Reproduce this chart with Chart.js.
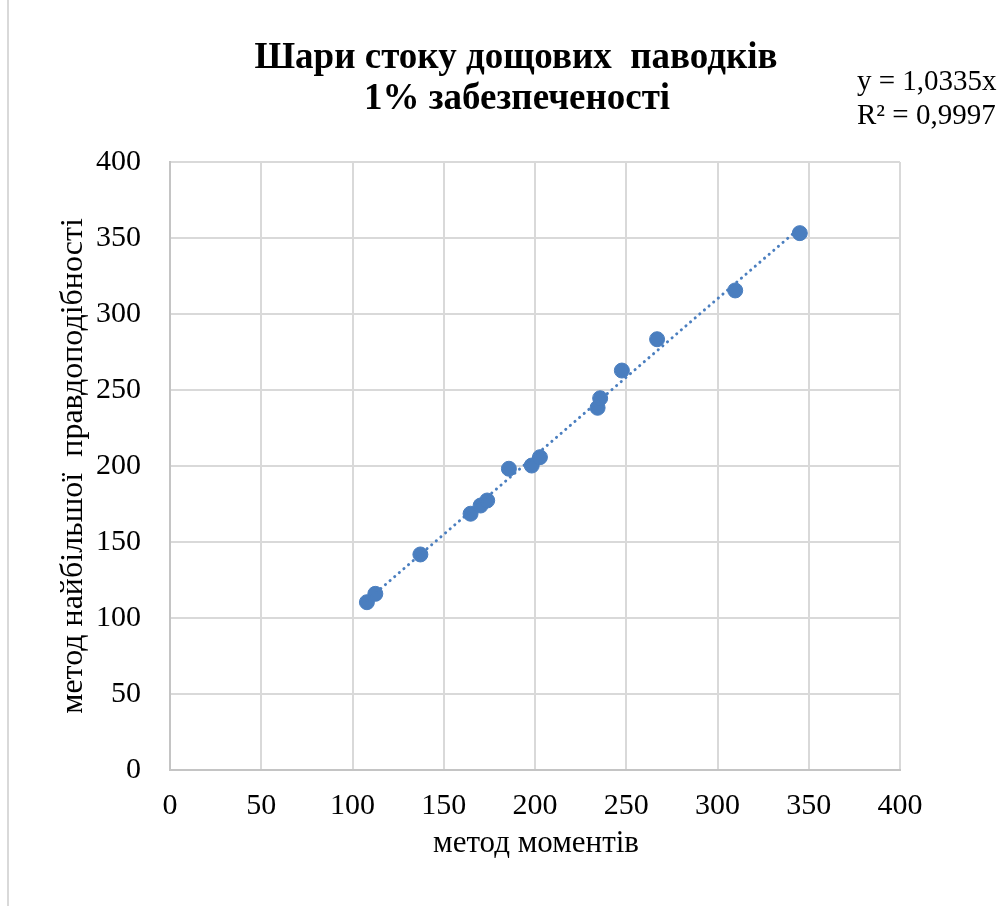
<!DOCTYPE html>
<html>
<head>
<meta charset="utf-8">
<script src="https://cdn.jsdelivr.net/npm/chart.js@4.4.1/dist/chart.umd.min.js"></script>
<style>
  html, body { margin: 0; padding: 0; background: #fff; }
  canvas { display: block; }
</style>
</head>
<body>
<canvas id="grafico" width="1006" height="906"></canvas>
<script>
// Дані
const metodMomentiv = [107.9, 112.5, 137.2, 164.7, 170.2, 173.8, 185.7, 198.2, 202.7, 234.3, 235.7, 247.6, 266.9, 309.7, 345.1];
const metodPravdopodibnosti = [110.4, 115.9, 141.8, 168.6, 174.0, 177.3, 198.2, 200.3, 205.8, 238.3, 244.6, 262.8, 283.4, 315.5, 353.2];
const nahyl = 1.0335;
const r2 = '0,9997';
const tickLabels = ['0', '50', '100', '150', '200', '250', '300', '350', '400'];

const titleLines = ['Шари стоку дощових  паводків', '1% забезпеченості'];
const xTitle = 'метод моментів';
const yTitle = 'метод найбільшої  правдоподібності';

const blue = '#4a7ebf';
const serif = '"Liberation Serif", "Times New Roman", serif';

// точки
const tochky = metodMomentiv.map((x, i) => ({ x: x, y: metodPravdopodibnosti[i] }));

// лінія тренду y = 1,0335x
const xMin = Math.min(...metodMomentiv);
const xMax = Math.max(...metodMomentiv);
const trend = [{ x: xMin, y: nahyl * xMin }, { x: xMax, y: nahyl * xMax }];

// підписи, рамка
const textPlugin = {
    id: 'texty',
    afterDraw(chart) {
        const ctx = chart.ctx;
        const area = chart.chartArea;
        ctx.save();

        // рамка діаграми зліва
        ctx.strokeStyle = '#d9d9d9';
        ctx.lineWidth = 2;
        ctx.beginPath();
        ctx.moveTo(8, 0);
        ctx.lineTo(8, 906);
        ctx.stroke();

        ctx.fillStyle = '#000';
        ctx.textAlign = 'center';
        ctx.textBaseline = 'alphabetic';
        ctx.font = 'bold 37px ' + serif;
        ctx.fillText(titleLines[0], 516, 68);
        ctx.fillText(titleLines[1], 517, 109);

        ctx.textAlign = 'left';
        ctx.font = '29px ' + serif;
        ctx.fillText('y = ' + String(nahyl).replace('.', ',') + 'x', 857, 90);
        ctx.fillText('R² = ' + r2, 857, 124);

        ctx.textAlign = 'center';
        ctx.font = '31px ' + serif;
        ctx.fillText(xTitle, (area.left + area.right) / 2 + 1, 852);

        ctx.translate(82, 466);
        ctx.rotate(-Math.PI / 2);
        ctx.font = '32px ' + serif;
        ctx.fillText(yTitle, 0, 0);
        ctx.restore();
    }
};

new Chart(document.getElementById('grafico'), {
    type: 'scatter',
    data: {
        datasets: [
            {
                type: 'line',
                data: trend,
                borderColor: blue,
                borderWidth: 3,
                borderDash: [0.1, 6],
                borderCapStyle: 'round',
                pointRadius: 0,
                fill: false,
                order: 0
            },
            {
                data: tochky,
                backgroundColor: blue,
                borderColor: blue,
                pointRadius: 7.5,
                pointHoverRadius: 7.5,
                order: 1
            }
        ]
    },
    options: {
        responsive: false,
        animation: false,
        layout: { padding: { top: 162, right: 106, left: 0, bottom: 0 } },
        plugins: {
            legend: { display: false },
            tooltip: { enabled: false },
            title: { display: false }
        },
        scales: {
            x: {
                type: 'linear',
                min: 0,
                max: 400,
                afterFit: s => { s.height = 136; },
                ticks: {
                    stepSize: 50,
                    padding: 18,
                    color: '#000',
                    font: { family: serif, size: 30 },
                    callback: (v, i) => tickLabels[i]
                },
                grid: { color: '#d9d9d9', lineWidth: 2, drawTicks: false },
                border: { color: '#c4c4c4', width: 2 }
            },
            y: {
                type: 'linear',
                min: 0,
                max: 400,
                afterFit: s => { s.width = 170; },
                ticks: {
                    stepSize: 50,
                    padding: 29,
                    color: '#000',
                    font: { family: serif, size: 30 },
                    callback: (v, i) => tickLabels[i]
                },
                grid: { color: '#d9d9d9', lineWidth: 2, drawTicks: false },
                border: { color: '#c4c4c4', width: 2 }
            }
        }
    },
    plugins: [textPlugin]
});
</script>
</body>
</html>
